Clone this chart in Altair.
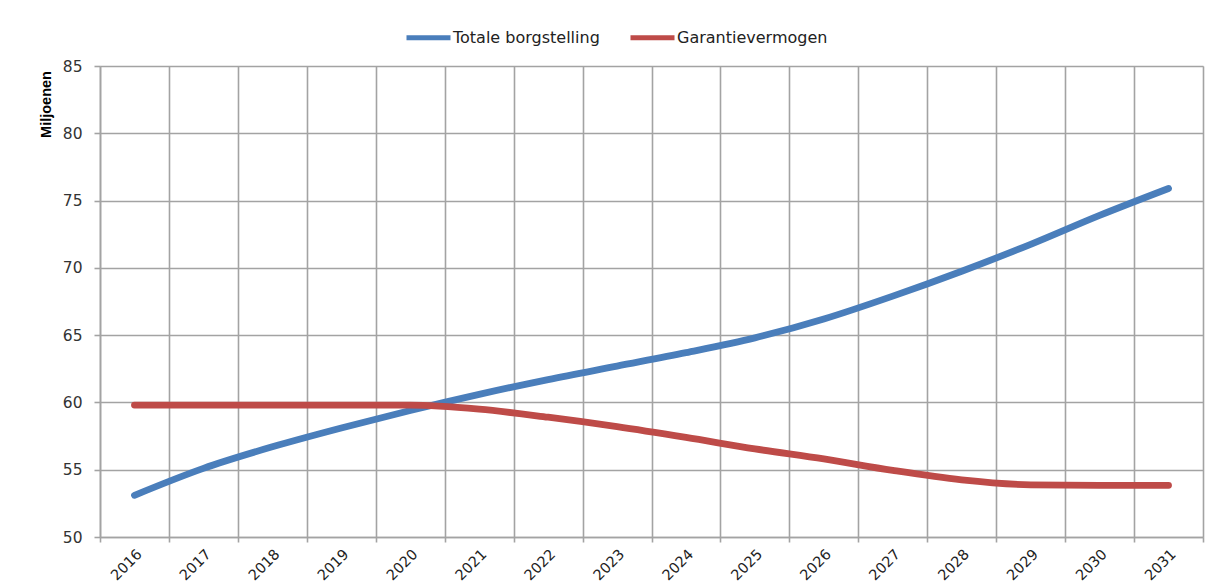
import altair as alt
import pandas as pd

years = [str(y) for y in range(2016, 2032)]
totale_borgstelling = [53.1, 55.1, 56.7, 58.1, 59.4, 60.6, 61.7, 62.7, 63.7, 64.8,
                       66.2, 67.9, 69.75, 71.75, 73.9, 75.9]
garantievermogen = [59.8, 59.8, 59.8, 59.8, 59.8, 59.5, 58.9, 58.2, 57.4, 56.55,
                    55.8, 54.95, 54.25, 53.88, 53.84, 53.84]
series_names = ["Totale borgstelling", "Garantievermogen"]
series_colors = ["#4a7ebb", "#be4b48"]

rows = []
for name, vals in zip(series_names, [totale_borgstelling, garantievermogen]):
    for y, v in zip(years, vals):
        rows.append({"jaar": y, "waarde": v, "reeks": name})
df = pd.DataFrame(rows)

FONT = "DejaVu Sans"
GRID = "#a3a3a3"

chart = alt.Chart(df).mark_line(
    strokeWidth=6.8, strokeCap="round", strokeJoin="round", interpolate="monotone"
).encode(
    x=alt.X("jaar:O", sort=years,
            scale=alt.Scale(type="band", paddingInner=0, paddingOuter=0),
            axis=alt.Axis(title=None, tickBand="extent", grid=True, gridColor=GRID,
                          gridWidth=1.6, labelAngle=-45, labelFontSize=14.5,
                          labelFont=FONT, labelColor="#222", labelPadding=5,
                          tickColor=GRID, tickSize=5, tickWidth=1.6,
                          domainColor=GRID, domainWidth=1.6)),
    y=alt.Y("waarde:Q",
            scale=alt.Scale(domain=[50, 85], nice=False, zero=False),
            axis=alt.Axis(values=[50, 55, 60, 65, 70, 75, 80, 85], title="Miljoenen",
                          titleFont="Liberation Sans", titleFontSize=14.5,
                          titleFontWeight="bold", titleColor="#000",
                          titleAngle=-90, titleX=-54, titleY=38,
                          titleAlign="center", titleBaseline="middle",
                          grid=True, gridColor=GRID, gridWidth=1.6,
                          labelFont=FONT, labelFontSize=15.5, labelColor="#333",
                          labelPadding=12, tickColor=GRID, tickSize=6, tickWidth=1.6,
                          domainColor=GRID, domainWidth=1.6)),
    color=alt.Color("reeks:N",
                    scale=alt.Scale(domain=series_names, range=series_colors),
                    legend=alt.Legend(title=None, orient="none", direction="horizontal",
                                      legendX=304, legendY=-53,
                                      symbolType="stroke", symbolSize=1936,
                                      symbolStrokeWidth=5, labelOffset=0,
                                      labelFont=FONT, labelFontSize=16,
                                      labelColor="#222", columnPadding=20)),
).properties(
    width=1103, height=471,
    autosize=alt.AutoSizeParams(type="none"),
    padding={"left": 92, "top": 58, "right": 10, "bottom": 50},
).configure_view(
    stroke=GRID, strokeWidth=1.6
).configure(background="white")

chart.save("out.html", embed_options={"renderer": "svg", "actions": False})
